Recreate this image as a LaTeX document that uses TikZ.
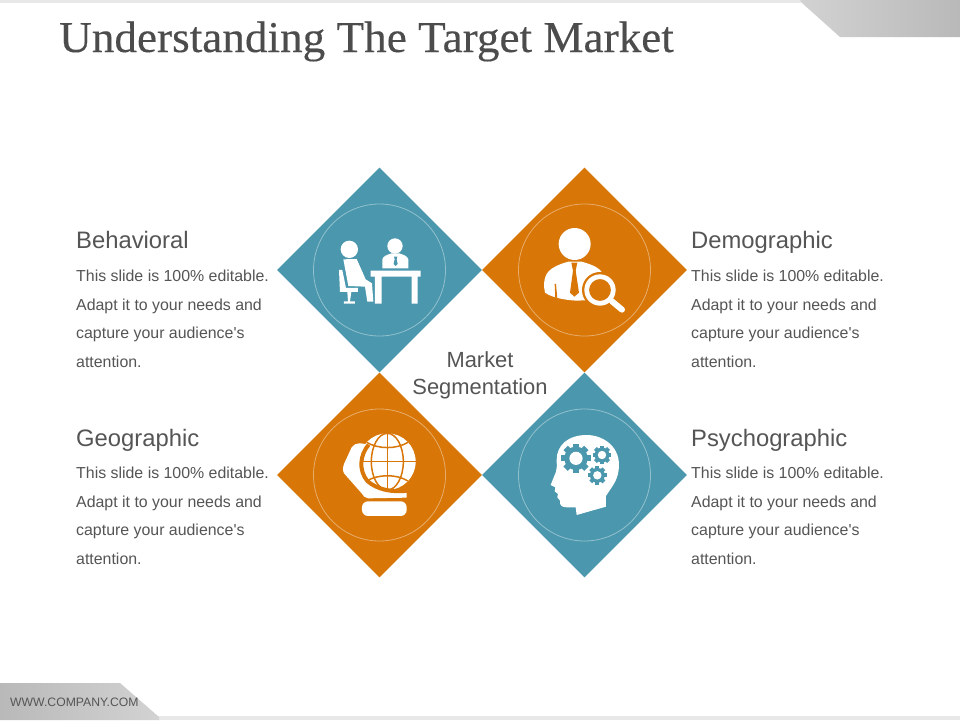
\documentclass[tikz,border=0pt]{standalone}
\usepackage{fontspec}
\setmainfont{Liberation Sans}
\newfontfamily\titlefont[FakeStretch=1.027,FakeBold=0.25]{Liberation Serif}
\usetikzlibrary{shapes.geometric}

\definecolor{tealbox}{HTML}{4A97AE}
\definecolor{orangebox}{HTML}{D87607}
\definecolor{textgray}{HTML}{555555}

\tikzset{
  tilebox/.style={diamond,inner sep=0pt,aspect=1,minimum size=205pt},
  ringline/.style={circle,inner sep=0pt,minimum size=132pt,line width=.8pt},
  headlabel/.style={anchor=base west,inner sep=0pt,text=textgray,font=\fontsize{23.8}{28}\selectfont},
  bodylabel/.style={anchor=north west,inner sep=0pt,text=textgray,align=left,font=\fontsize{15.9}{28.6}\selectfont},
  iconpart/.style={fill=white,draw=none}
}

\newcommand{\gearicon}[4]{%
  \foreach \a in {0,45,...,315}
    \draw[#4,line width=#3*.14pt] (#1,#2) -- ++(\a:#3);
  \fill[#4] (#1,#2) circle (#3*.8);
  \fill[white] (#1,#2) circle (#3*.45);
}

\begin{document}
\begin{tikzpicture}[x=1pt,y=-1pt]

  \useasboundingbox (0,0) rectangle (960,720);
  \fill[white] (0,0) rectangle (960,720);

  % top and bottom bands
  \fill[gray!18] (0,0) rectangle (802,3);
  \shade[left color=gray!35,right color=gray!55] (800,0) -- (802,3) -- (840,37) -- (960,37) -- (960,0) -- cycle;
  \fill[gray!18] (150,716) rectangle (960,720);
  \shade[left color=gray!55,right color=gray!35] (0,683) -- (120,683) -- (159,717) -- (159,720) -- (0,720) -- cycle;

  \node[anchor=base west,inner sep=0pt,text=textgray!90!black,font=\titlefont\fontsize{44}{48}\selectfont] (title) at (59,52) {Understanding The Target Market};
  \node[anchor=base west,inner sep=0pt,text=textgray,font=\fontsize{12.2}{14}\selectfont] (company) at (10,706) {WWW.COMPANY.COM};

  \node[tilebox,fill=tealbox]   (behavioral)    at (379.5,270) {};
  \node[tilebox,fill=orangebox] (demographic)   at (584.5,270) {};
  \node[tilebox,fill=orangebox] (geographic)    at (379.5,475) {};
  \node[tilebox,fill=tealbox]   (psychographic) at (584.5,475) {};

  \node[ringline,draw=tealbox!60!white]   (behavioralring)    at (behavioral) {};
  \node[ringline,draw=orangebox!60!white] (demographicring)   at (demographic) {};
  \node[ringline,draw=orangebox!60!white] (geographicring)    at (geographic) {};
  \node[ringline,draw=tealbox!60!white]   (psychographicring) at (psychographic) {};

  \node[align=center,inner sep=0pt,text=textgray,font=\fontsize{21.9}{27}\selectfont] (market) at (480,375) {Market\\Segmentation};

  \node[headlabel] (behavioralhead)    at (76,248)  {Behavioral};
  \node[headlabel] (demographichead)   at (691,248) {Demographic};
  \node[headlabel] (geographichead)    at (76,446)  {Geographic};
  \node[headlabel] (psychographichead) at (691,446) {Psychographic};

  \node[bodylabel] (behavioraltext)    at (76,270)  {This slide is 100\% editable.\\Adapt it to your needs and\\capture your audience\textquotesingle s\\attention.};
  \node[bodylabel] (demographictext)   at (691,270) {This slide is 100\% editable.\\Adapt it to your needs and\\capture your audience\textquotesingle s\\attention.};
  \node[bodylabel] (geographictext)    at (76,467)  {This slide is 100\% editable.\\Adapt it to your needs and\\capture your audience\textquotesingle s\\attention.};
  \node[bodylabel] (psychographictext) at (691,467) {This slide is 100\% editable.\\Adapt it to your needs and\\capture your audience\textquotesingle s\\attention.};

  % people at a desk
  \begin{scope}[shift={(270,160)},x=.3333pt,y=-.3333pt]
    \fill[iconpart] (238,268) circle (26);
    \fill[iconpart] (220,298) -- (260,297) -- (287,358) -- (306,370) -- (310,425) -- (292,425) -- (285,380) -- (235,378) -- cycle;
    \fill[iconpart] (207,330) -- (217,330) -- (228,384) -- (264,384) -- (264,396) -- (244,396) -- (240,424) -- (255,424) -- (255,431) -- (222,431) -- (222,424) -- (234,424) -- (232,396) -- (210,396) -- cycle;
    \fill[iconpart] (302,332) -- (452,332) -- (452,350) -- (443,350) -- (443,431) -- (425,431) -- (425,350) -- (335,350) -- (335,431) -- (315,431) -- (315,350) -- (302,350) -- cycle;
    \fill[iconpart] (375,258) circle (23);
    \fill[iconpart] (337,325) -- (337,298) .. controls (340,288) and (350,285) .. (365,280) -- (388,280) .. controls (402,285) and (412,288) .. (415,298) -- (415,325) -- cycle;
    \fill[tealbox] (372,290) -- (382,290) -- (380,298) -- (383,312) -- (377,318) -- (371,312) -- (374,298) -- cycle;
  \end{scope}

  % person with magnifier
  \begin{scope}[shift={(480,160)},x=.3333pt,y=-.3333pt]
    \fill[iconpart] (284,252) circle (48);
    \fill[iconpart] (192,380) .. controls (192,340) and (205,322) .. (265,305) -- (305,305) .. controls (340,315) and (365,325) .. (372,350) -- (340,420) -- (290,422) .. controls (250,420) and (215,412) .. (195,398) -- cycle;
    \fill[orangebox] (274,308) -- (292,308) -- (287,332) -- (297,398) -- (283,410) -- (270,398) -- (279,332) -- cycle;
    \fill[orangebox] (224,372) -- (228,372) -- (232,416) -- (226,416) -- cycle;
    \fill[orangebox] (360,390) circle (54);
    \fill[iconpart,even odd rule] (360,390) circle (47) (360,390) circle (33);
    \draw[white,line width=6pt,line cap=round] (396,424) -- (426,449);
  \end{scope}

  % hand holding a globe
  \begin{scope}[shift={(270,370)},x=.3333pt,y=-.3333pt]
    \fill[iconpart] (352,275) circle (85);
    \draw[orangebox,line width=1.5pt] (352,190) -- (352,360) (267,275) -- (437,275);
    \draw[orangebox,line width=1.5pt] (352,275) ellipse (48 and 85);
    \draw[orangebox,line width=1.5pt] (290,217) .. controls (325,238) and (380,238) .. (414,217);
    \draw[orangebox,line width=1.5pt] (290,333) .. controls (325,312) and (380,312) .. (414,333);
    \fill[iconpart] (245,232) .. controls (255,215) and (283,218) .. (293,227) .. controls (270,255) and (265,300) .. (292,333) .. controls (320,358) and (365,368) .. (410,365) -- (410,383) -- (295,385) .. controls (285,385) and (280,378) .. (275,370) -- (222,310) .. controls (217,300) and (218,290) .. (222,282) -- cycle;
    \draw[orangebox,line width=4pt] (296,224) .. controls (270,255) and (265,300) .. (292,333) .. controls (320,358) and (365,368) .. (412,362);
    \fill[iconpart,rounded corners=6pt] (276,394) rectangle (410,438);
  \end{scope}

  % head with gears
  \begin{scope}[shift={(480,370)},x=.3333pt,y=-.3333pt]
    \fill[iconpart] (290,435) -- (378,410) -- (378,378) .. controls (395,350) and (417,330) .. (417,285) .. controls (417,225) and (365,195) .. (320,195) .. controls (265,195) and (230,225) .. (230,270) .. controls (230,285) and (232,295) .. (228,305) -- (212,345) -- (226,352) -- (224,364) -- (234,372) -- (232,382) -- (240,392) .. controls (238,405) and (245,412) .. (260,412) -- (287,412) -- cycle;
    \gearicon{288}{265}{44}{tealbox}
    \gearicon{366}{255}{28}{tealbox}
    \gearicon{352}{316}{28}{tealbox}
  \end{scope}

\end{tikzpicture}
\end{document}
